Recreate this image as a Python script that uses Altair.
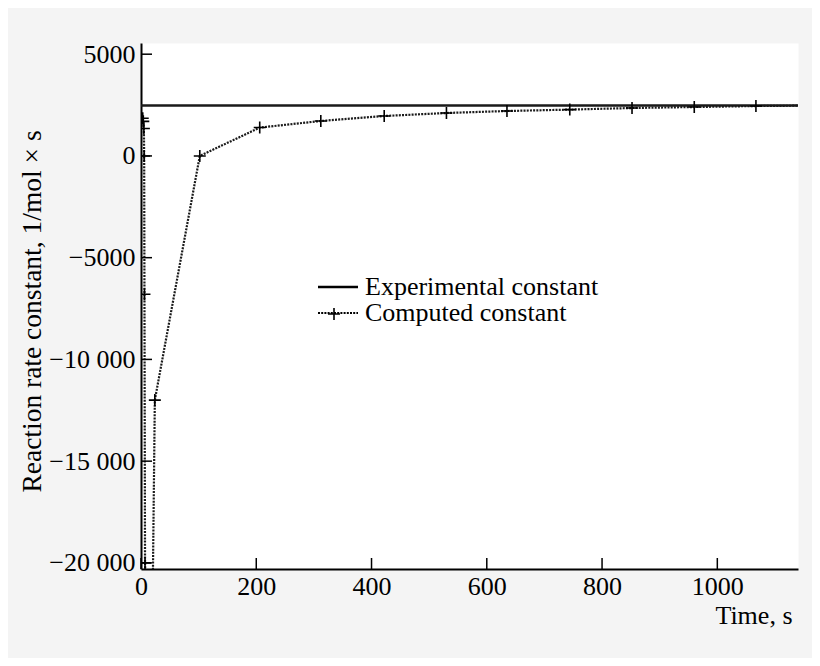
import altair as alt
import pandas as pd

# Experimental constant (horizontal level)
exp_t = [0, 1140]
exp_k = [2480, 2480]

# Computed constant
comp_t = [3, 4, 5, 5.5, 6, 7, 17, 24, 102, 206, 312, 422, 530, 635, 744, 852, 960, 1067, 1140]
comp_k = [1850, 1700, 1350, 0, -6800, -20000, -30000, -12000, 0, 1394, 1717, 1963, 2110,
          2208, 2277, 2355, 2404, 2453, 2470]
comp_marker = [True, True, True, True, True, True, True, True, True, True, True, True, True,
               True, True, True, True, True, False]

x_ticks = [0, 200, 400, 600, 800, 1000]
y_ticks = [-20000, -15000, -10000, -5000, 0, 5000]

EXP = "Experimental constant"
COMP = "Computed constant"
FONT = "Liberation Serif"

rows = []
for i, (t, k) in enumerate(zip(exp_t, exp_k)):
    rows.append({"series": EXP, "t": t, "k": k, "i": i, "marker": False, "pt": EXP})
for i, (t, k, m) in enumerate(zip(comp_t, comp_k, comp_marker)):
    rows.append({"series": COMP, "t": t, "k": k, "i": i, "marker": m, "pt": COMP})
df = pd.DataFrame(rows)

xticks_df = pd.DataFrame({"t": x_ticks})
yticks_df = pd.DataFrame({"k": y_ticks})

xs = alt.Scale(domain=[0, 1140], nice=False, zero=False)
ys = alt.Scale(domain=[-20300, 5550], nice=False, zero=False)

W, H = 657, 526

x_axis = alt.Axis(
    values=x_ticks, format="d", title="Time, s", grid=False, ticks=False, tickSize=0,
    labelFlush=False,
    domainColor="black", domainWidth=2, labelFont=FONT, labelFontSize=26, labelColor="black",
    labelPadding=4, titleFont=FONT, titleFontSize=26, titleFontWeight="normal",
    titleColor="black", titleX=651, titleY=54, titleAlign="right",
    titleBaseline="alphabetic", titleAngle=0,
)
y_axis = alt.Axis(
    values=y_ticks, grid=False, ticks=False, tickSize=0, labelFlush=False,
    labelExpr="datum.value == 0 ? '0' : (datum.value < 0 ? '\u2212' : '') + "
              "(abs(datum.value) >= 10000 ? format(floor(abs(datum.value) / 1000), 'd') + ' 000' "
              ": format(abs(datum.value), 'd'))",
    domainColor="black", domainWidth=2, labelFont=FONT, labelFontSize=26, labelColor="black",
    labelPadding=6, title="Reaction rate constant, 1/mol \u00d7 s", titleFont=FONT,
    titleFontSize=27.5, titleFontWeight="normal", titleColor="black", titleX=-109, titleY=268,
    titleAngle=270, titleAlign="center", titleBaseline="middle",
)

xenc = alt.X("t:Q", scale=xs, axis=x_axis)
yenc = alt.Y("k:Q", scale=ys, axis=y_axis)

LX, LY = 184, 231

line_legend = alt.Legend(
    title=None, orient="none", legendX=LX, legendY=LY, padding=0,
    labelFont=FONT, labelFontSize=26, labelColor="black", labelOffset=14, labelLimit=0,
    symbolType="M-2.5,0H2.5", symbolSize=256, symbolStrokeWidth=2, symbolStrokeColor="black",
    rowPadding=0,
)
plus_legend = alt.Legend(
    title=None, orient="none", legendX=LX + 2, legendY=LY + 33, padding=0,
    labelFont=FONT, labelFontSize=1, labelExpr="''", labelOffset=0, labelOpacity=0,
    symbolSize=144, symbolStrokeWidth=1.6, symbolStrokeColor="black",
    symbolFillColor="transparent", rowPadding=0,
)

lines = alt.Chart(df).mark_line(clip=True, color="#1a1a1a").encode(
    x=xenc,
    y=yenc,
    strokeDash=alt.StrokeDash("series:N", scale=alt.Scale(domain=[EXP, COMP], range=[[1, 0], [2, 1.2]]),
                              legend=line_legend),
    strokeWidth=alt.StrokeWidth("series:N", scale=alt.Scale(domain=[EXP, COMP], range=[2.6, 2.2]),
                                legend=None),
    order=alt.Order("i:Q"),
    detail="series:N",
)

points = alt.Chart(df).transform_filter("datum.marker").mark_point(
    shape="M-1,0H1M0,-1V1", size=144, filled=False, strokeWidth=1.6,
    opacity=1, clip=True,
).encode(
    x=xenc, y=yenc,
    color=alt.Color("pt:N", scale=alt.Scale(domain=[COMP], range=["black"]), legend=plus_legend),
)

ytick_marks = alt.Chart(yticks_df).mark_rule(color="black", strokeWidth=1.5).encode(
    y=yenc, x=alt.value(0), x2=alt.value(11)
)
xtick_marks = alt.Chart(xticks_df).mark_rule(color="black", strokeWidth=1.5).encode(
    x=xenc, y=alt.value(H), y2=alt.value(H - 11)
)

chart = alt.layer(lines, points, ytick_marks, xtick_marks).properties(
    width=W, height=H,
    autosize=alt.AutoSizeParams(type="none"),
    padding={"left": 133, "top": 35, "right": 14, "bottom": 89},
    background="#f4f4f4",
).configure_view(fill="white", stroke="transparent")

chart.save("out.html", embed_options={"renderer": "svg", "actions": False})
